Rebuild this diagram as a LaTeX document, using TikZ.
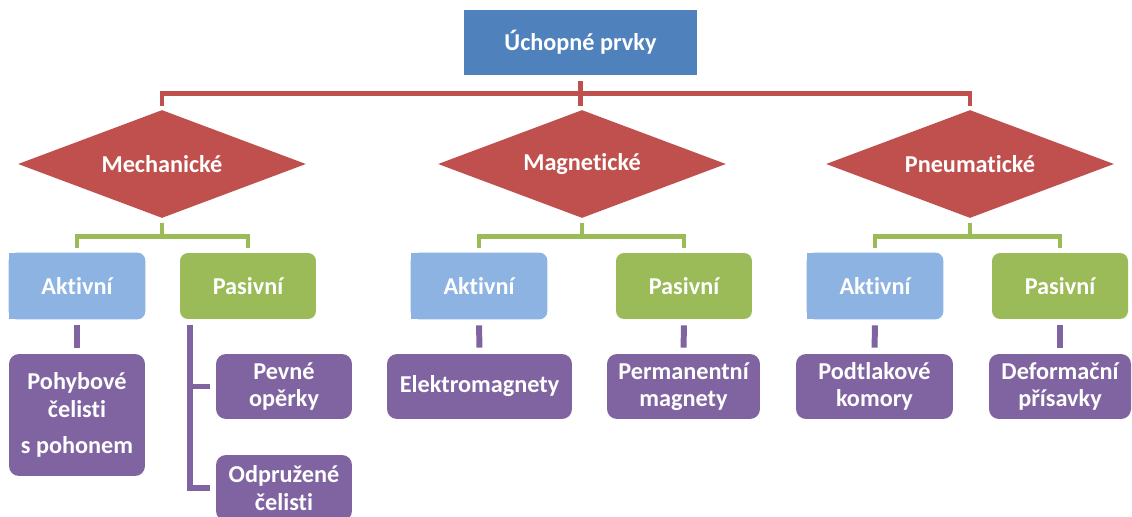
\documentclass[tikz,border=0pt]{standalone}
\usepackage{fontspec}
\setmainfont{Carlito}[Ligatures=NoCommon]
\usetikzlibrary{shapes.geometric,calc,backgrounds}
\definecolor{topblue}{HTML}{4F81BD}
\definecolor{catred}{HTML}{C0504D}
\definecolor{pasgreen}{HTML}{9BBB59}
\definecolor{aktblue}{HTML}{8DB3E2}
\definecolor{leafpurple}{HTML}{8064A2}
\tikzset{every node/.append style={align=center, text=white, inner sep=2pt, font=\fontsize{13.8}{15.5}\selectfont\bfseries}}
\tikzset{
  topbox/.style={fill=topblue, minimum width=4.66cm, minimum height=1.3cm},
  catdiamond/.style={diamond, aspect=2.67, fill=catred, minimum width=5.76cm, minimum height=2.16cm, inner sep=0pt},
  aktbox/.style={minimum width=2.72cm, minimum height=1.32cm},
  pasbox/.style={fill=pasgreen, rounded corners=0.16cm, minimum width=2.72cm, minimum height=1.32cm},
  leafbox/.style={fill=leafpurple, rounded corners=0.2cm, minimum height=1.3cm},
  redline/.style={draw=catred, line width=2.6pt, shorten <=3.4pt, shorten >=2.3pt},
  greenline/.style={draw=pasgreen, line width=2.6pt, shorten <=2.8pt, shorten >=2.8pt},
  purpleline/.style={draw=leafpurple, line width=3.4pt, shorten <=3.4pt, shorten >=3.4pt}
}

\begin{document}
\begin{tikzpicture}[x=0.02cm, y=-0.02cm]
  \useasboundingbox (0,0) rectangle (1132,517);

  \node[topbox] (top) at (580.5,42.5) {Úchopné prvky};

  \node[catdiamond] (mech) at (162,164) {Mechanické};
  \node[catdiamond] (mag) at (582,164) {Magnetické};
  \node[catdiamond] (pneu) at (970,164) {Pneumatické};

  \node[aktbox] (aktM) at (77,286) {Aktivní};
  \node[pasbox] (pasM) at (248,286) {Pasivní};
  \node[aktbox] (aktG) at (479,286) {Aktivní};
  \node[pasbox] (pasG) at (684,286) {Pasivní};
  \node[aktbox] (aktP) at (875,286) {Aktivní};
  \node[pasbox] (pasP) at (1060,286) {Pasivní};

  \begin{scope}[on background layer]
    \foreach \n in {aktM,aktG,aktP} {
      \fill[aktblue, rounded corners=0.16cm] (\n.north west) rectangle (\n.south east);
      \fill[aktblue] (\n.north west) rectangle (\n.south);
    }
  \end{scope}

  \node[leafbox, minimum width=2.72cm, minimum height=2.44cm] (pohyb) at (77,415) {Pohybové\\čelisti\\[5pt]s pohonem};
  \node[leafbox, minimum width=2.72cm] (pevne) at (284,386.5) {Pevné\\opěrky};
  \node[leafbox, minimum width=2.72cm, minimum height=1.32cm] (odpr) at (284,488) {Odpružené\\čelisti};
  \node[leafbox, minimum width=3.7cm] (elektro) at (479.5,386.5) {Elektromagnety};
  \node[leafbox, minimum width=3.06cm] (perm) at (683.5,386.5) {Permanentní\\magnety};
  \node[leafbox, minimum width=3.14cm] (podtlak) at (874.5,386.5) {Podtlakové\\komory};
  \node[leafbox, minimum width=2.84cm] (deform) at (1060,386.5) {Deformační\\přísavky};

  \draw[redline] (top.south) -- ++(0,18) -| (mech.north);
  \draw[redline] (top.south) -- ++(0,18) -| (pneu.north);
  \draw[redline] (top.south) -- (top.south |- mag.north);

  \draw[greenline] (mech.south) -- ++(0,18) -| (aktM.north);
  \draw[greenline] (mech.south) -- ++(0,18) -| (pasM.north);
  \draw[greenline] (mag.south) -- ++(0,18) -| (aktG.north);
  \draw[greenline] (mag.south) -- ++(0,18) -| (pasG.north);
  \draw[greenline] (pneu.south) -- ++(0,18) -| (aktP.north);
  \draw[greenline] (pneu.south) -- ++(0,18) -| (pasP.north);

  \draw[purpleline] (aktM.south) -- (pohyb.north);
  \draw[purpleline] (aktG.south) -- (elektro.north);
  \draw[purpleline] (pasG.south) -- (perm.north);
  \draw[purpleline] (aktP.south) -- (podtlak.north);
  \draw[purpleline] (pasP.south) -- (deform.north);
  \draw[purpleline] ($(pasM.south west)+(10,0)$) |- (pevne.west);
  \draw[purpleline] ($(pasM.south west)+(10,0)$) |- (odpr.west);
\end{tikzpicture}
\end{document}
